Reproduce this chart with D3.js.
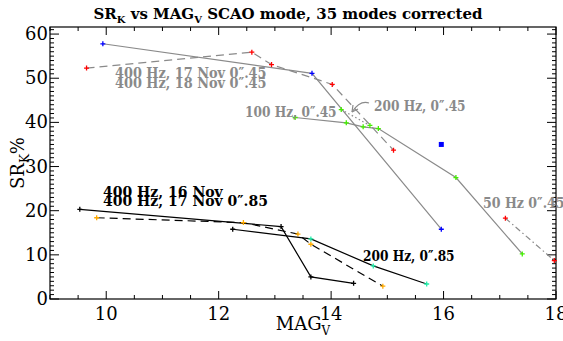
<!DOCTYPE html>
<html><head><meta charset="utf-8">
<script src="https://cdn.jsdelivr.net/npm/d3@7"></script>
<style>
body{margin:0;background:#fff;}
text{font-family:"DejaVu Serif",serif;}
</style></head>
<body><svg id="c" width="563" height="341"></svg>
<script>
// ---- data ----
const s400_18Nov_x = [9.94, 13.66, 15.96];
const s400_18Nov_y = [57.8, 51.1, 15.8];
const s400_18Nov_c = ["blue","blue","blue"];

const s400_17Nov_x = [9.65, 12.59, 12.94, 14.02, 15.11];
const s400_17Nov_y = [52.3, 55.9, 53.1, 48.6, 33.7];

const s100_045_x = [13.36, 14.27, 14.57, 14.84, 16.22, 17.40];
const s100_045_y = [41.1, 39.9, 39.0, 38.6, 27.5, 10.2];

const s200_045_x = [14.18, 14.69];
const s200_045_y = [42.9, 39.3];

const s50_045_x = [17.10, 17.97];
const s50_045_y = [18.3, 8.7];

const single_x = [15.96];
const single_y = [35.0];

const s400_16Nov_x = [9.53, 13.11, 13.64, 14.40];
const s400_16Nov_y = [20.3, 16.4, 5.0, 3.55];

const s400_17Nov085_x = [9.83, 12.44, 13.41, 13.64, 14.92];
const s400_17Nov085_y = [18.4, 17.3, 14.7, 12.4, 2.9];

const s200_085_x = [12.25, 13.64, 14.75, 15.70];
const s200_085_y = [15.8, 13.6, 7.5, 3.4];

const xTicks = [10, 12, 14, 16, 18];
const yTicks = [0, 10, 20, 30, 40, 50, 60];

// ---- setup ----
const svg = d3.select("#c");
const L = 50, R = 556, T = 27, B = 299;
const x = d3.scaleLinear().domain([9, 18]).range([L, R]);
const y = d3.scaleLinear().domain([0, 61.6]).range([B, T]);
const gray = "#8a8a8a";

svg.append("rect").attr("x", L).attr("y", T).attr("width", R - L).attr("height", B - T)
  .attr("fill", "none").attr("stroke", "#000").attr("stroke-width", 1.2);

const xMinor = d3.range(9, 18.01, 0.5);
const yMinor = d3.range(0, 61.6, 1);
const tk = svg.append("g").attr("stroke", "#000").attr("stroke-width", 1);
xMinor.forEach(v => {
  const maj = Math.abs(v % 2) < 1e-6;
  const len = maj ? 8 : 4;
  tk.append("line").attr("x1", x(v)).attr("x2", x(v)).attr("y1", B).attr("y2", B - len);
  tk.append("line").attr("x1", x(v)).attr("x2", x(v)).attr("y1", T).attr("y2", T + len);
});
yMinor.forEach(v => {
  const maj = Math.abs(v % 10) < 1e-6;
  const len = maj ? 9 : 4;
  tk.append("line").attr("y1", y(v)).attr("y2", y(v)).attr("x1", L).attr("x2", L + len);
  tk.append("line").attr("y1", y(v)).attr("y2", y(v)).attr("x1", R).attr("x2", R - len);
});

svg.append("g").selectAll("text").data(xTicks).join("text")
  .attr("x", d => x(d)).attr("y", B + 21).attr("text-anchor", "middle")
  .attr("font-size", 18).text(d => d);
svg.append("g").selectAll("text").data(yTicks).join("text")
  .attr("x", L - 2).attr("y", d => y(d) + 6).attr("text-anchor", "end")
  .attr("font-size", 18).text(d => d);

const tt = svg.append("text").attr("x", 288).attr("y", 19).attr("text-anchor", "middle")
  .attr("font-size", 15).attr("font-weight", "bold");
tt.append("tspan").text("SR");
tt.append("tspan").attr("font-size", 10).attr("dy", 4).text("K");
tt.append("tspan").attr("dy", -4).text(" vs MAG");
tt.append("tspan").attr("font-size", 10).attr("dy", 4).text("V");
tt.append("tspan").attr("dy", -4).text(" SCAO mode, 35 modes corrected");

const xt = svg.append("text").attr("x", 303).attr("y", 330).attr("text-anchor", "middle")
  .attr("font-size", 18);
xt.append("tspan").text("MAG");
xt.append("tspan").attr("font-size", 12).attr("dy", 5).text("V");

const yt = svg.append("text").attr("transform", "translate(24,163) rotate(-90)")
  .attr("text-anchor", "middle").attr("font-size", 18);
yt.append("tspan").text("SR");
yt.append("tspan").attr("font-size", 12).attr("dy", 5).text("K");
yt.append("tspan").attr("dy", -5).text("%");

// ---- series ----
const line = d3.line().x(d => x(d[0])).y(d => y(d[1]));
function series(xs, ys, color, dash, cols) {
  const pts = xs.map((v, i) => [v, ys[i]]);
  svg.append("path").attr("d", line(pts)).attr("fill", "none").attr("stroke", color)
    .attr("stroke-width", 1.2).attr("stroke-dasharray", dash);
  pts.forEach((p, i) => {
    svg.append("path").attr("d", `M${x(p[0]) - 2.5},${y(p[1])}h5M${x(p[0])},${y(p[1]) - 2.5}v5`)
      .attr("stroke", cols[i]).attr("stroke-width", 1.3);
  });
}
series(s400_18Nov_x, s400_18Nov_y, gray, null, s400_18Nov_c);
series(s400_17Nov_x, s400_17Nov_y, gray, "8,5", s400_17Nov_x.map(() => "red"));
series(s100_045_x, s100_045_y, gray, null, s100_045_x.map(() => "#44ee00"));
series(s200_045_x, s200_045_y, gray, "1.5,2.5", s200_045_x.map(() => "#44ee00"));
series(s50_045_x, s50_045_y, gray, "6,3,1.5,3", s50_045_x.map(() => "red"));
series(s400_16Nov_x, s400_16Nov_y, "#000", null, s400_16Nov_x.map(() => "#000"));
series(s400_17Nov085_x, s400_17Nov085_y, "#000", "8,5", s400_17Nov085_x.map(() => "#ffaa00"));
series(s200_085_x, s200_085_y, "#000", null, ["#000", "#22eeaa", "#22eeaa", "#22eeaa"]);
single_x.forEach((v, i) => {
  svg.append("rect").attr("x", x(v) - 2.5).attr("y", y(single_y[i]) - 2.5)
    .attr("width", 5).attr("height", 5).attr("fill", "blue");
});

// ---- annotations ----
function label(txt, px, py, col, sx) {
  svg.append("text").attr("transform", `translate(${px},${py}) scale(${sx},1)`)
    .attr("font-size", 14).attr("font-weight", "bold").attr("fill", col).text(txt);
}
label("400 Hz, 17 Nov 0″.45", 115, 78, gray, 0.92);
label("400 Hz, 18 Nov 0″.45", 115, 88, gray, 0.92);
label("100 Hz, 0″.45", 245, 117, gray, 0.87);
label("200 Hz, 0″.45", 374, 111, gray, 0.87);
label("50 Hz 0″.45", 483, 208, gray, 0.9);
label("400 Hz, 16 Nov", 103, 197, "#000", 1);
label("400 Hz, 17 Nov 0″.85", 103, 206, "#000", 1);
label("200 Hz, 0″.85", 363, 261, "#000", 0.87);

svg.append("path").attr("d", "M369,103 Q360,100 352,112").attr("fill", "none")
  .attr("stroke", gray).attr("stroke-width", 1.2);
svg.append("path").attr("d", "M352,112 l1,-7 M352,112 l6,-3").attr("stroke", gray).attr("stroke-width", 1.2);
</script></body></html>
